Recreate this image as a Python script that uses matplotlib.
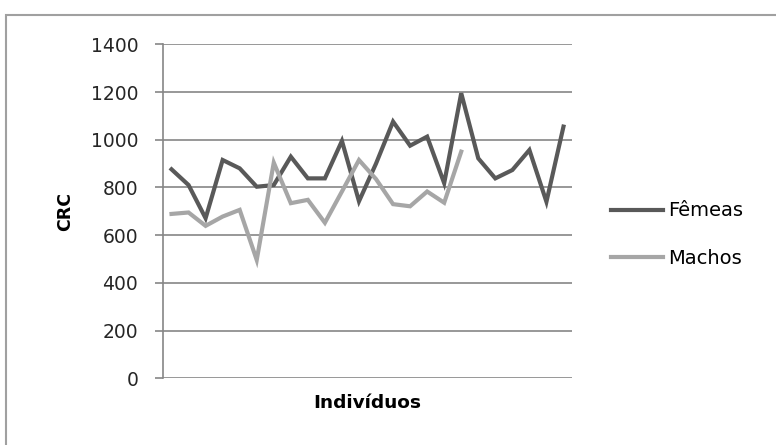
import matplotlib
matplotlib.use("Agg")
import matplotlib.pyplot as plt
from matplotlib.patches import Rectangle

plt.rcParams['font.family'] = ['DejaVu Sans']

femeas = [876, 810, 671, 915, 880, 803, 810, 929, 838, 838, 995, 742, 900, 1076,
          975, 1013, 818, 1195, 922, 838, 873, 957, 740, 1055]
machos = [689, 695, 639, 678, 706, 496, 904, 734, 748, 652, 783, 915, 835, 730,
          721, 783, 736, 950]
yticks = [0, 200, 400, 600, 800, 1000, 1200, 1400]

fig = plt.figure(figsize=(7.76, 4.45), dpi=100)
fig.patches.append(Rectangle((6/776, -0.05), 1.0, 1 - 15/445 + 0.05,
                             transform=fig.transFigure, fill=False,
                             edgecolor='#a0a0a0', linewidth=1.5))

ax = fig.add_axes([163/776, 1 - 378.3/445, (572 - 163)/776, (378.3 - 44.3)/445])

xf = list(range(len(femeas)))
xm = list(range(len(machos)))
ax.plot(xf, femeas, color='#595959', linewidth=3.0, label='Fêmeas', solid_joinstyle='miter')
ax.plot(xm, machos, color='#a6a6a6', linewidth=3.0, label='Machos', solid_joinstyle='miter')

ax.set_xlim(-0.5, len(femeas) - 0.5)
ax.set_ylim(0, 1400)
ax.set_yticks(yticks)
ax.set_yticklabels([str(v) for v in yticks], fontsize=13.5, color='#262626')
ax.set_xticks([])
ax.grid(axis='y', color='#868686', linewidth=1.2)
ax.set_axisbelow(True)
for s in ['top', 'right', 'bottom']:
    ax.spines[s].set_visible(False)
ax.spines['left'].set_color('#868686')
ax.spines['left'].set_linewidth(1.2)
ax.tick_params(axis='y', length=5.8, width=1.2, color='#868686', pad=12)

ax.set_ylabel('CRC', fontsize=12.5, fontweight='bold', labelpad=12)
ax.set_xlabel('Indivíduos', fontsize=13.3, fontweight='bold', labelpad=11)

leg = fig.legend(loc='center left', bbox_to_anchor=(593/776, 1 - 234.5/445),
                 frameon=False, fontsize=14, handlelength=2.7,
                 handletextpad=0.25, labelspacing=1.45)

fig.savefig('out.png', dpi=100)
